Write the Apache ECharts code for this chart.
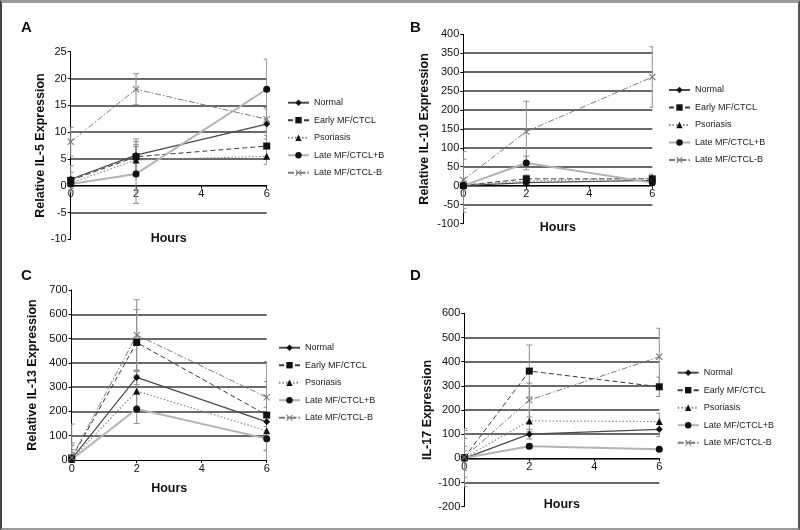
<!DOCTYPE html>
<html>
<head>
<meta charset="utf-8">
<script src="https://cdn.jsdelivr.net/npm/echarts@6/dist/echarts.min.js"></script>
<style>
  body { margin: 0; background: #fff; }
  .frame {
    position: absolute; left: 0; top: 0; width: 800px; height: 530px; box-sizing: border-box;
    border-top: 3px solid #9b9b9b; border-left: 2px solid #444;
    border-right: 2px solid #555; border-bottom: 2px solid #9b9b9b;
  }
  .panel { position: absolute; width: 400px; height: 265px; }
</style>
</head>
<body>
<div class="frame"></div>
<div id="panelA" class="panel" style="left:0;top:0"></div>
<div id="panelB" class="panel" style="left:400px;top:0"></div>
<div id="panelC" class="panel" style="left:0;top:265px"></div>
<div id="panelD" class="panel" style="left:400px;top:265px"></div>
<script>
var hours = [0, 2, 6];
var groups = ['Normal', 'Early MF/CTCL', 'Psoriasis', 'Late MF/CTCL+B', 'Late MF/CTCL-B'];

// rows follow groups, columns follow hours
var il5Mean = [
  [1.2, 5.7, 11.5],
  [1.0, 5.4, 7.4],
  [0.5, 4.8, 5.5],
  [0.3, 2.2, 18.0],
  [8.2, 18.0, 12.4]
];
var il5Err = [
  [2.5, 3.0, 2.8],
  [1.5, 2.8, 2.0],
  [1.0, 2.5, 1.5],
  [1.2, 5.5, 5.6],
  [2.7, 2.9, 2.2]
];

var il10Mean = [
  [0, 8, 14],
  [1, 18, 18],
  [2, 12, 20],
  [0, 60, 8],
  [15, 143, 287]
];
var il10Err = [
  [5, 5, 6],
  [8, 10, 8],
  [10, 8, 10],
  [70, 18, 10],
  [75, 80, 80]
];

var il13Mean = [
  [5, 340, 157],
  [8, 484, 185],
  [3, 284, 120],
  [2, 210, 88],
  [10, 515, 258]
];
var il13Err = [
  [55, 30, 60],
  [140, 135, 220],
  [40, 80, 80],
  [30, 60, 50],
  [60, 145, 65]
];

var il17Mean = [
  [0, 100, 120],
  [3, 361, 296],
  [2, 155, 152],
  [1, 50, 38],
  [5, 241, 420]
];
var il17Err = [
  [50, 20, 30],
  [120, 108, 40],
  [80, 45, 35],
  [30, 10, 8],
  [110, 70, 118]
];

var crossPath = 'path://M0,1L1,0L5,4L9,0L10,1L6,5L10,9L9,10L5,6L1,10L0,9L4,5Z';

var looks = [
  { symbol: 'diamond', size: 7, dot: '#111', line: '#4a4a4a', width: 1.2, type: 'solid' },
  { symbol: 'rect', size: 7, dot: '#111', line: '#3a3a3a', width: 1, type: [5, 3] },
  { symbol: 'triangle', size: 7, dot: '#111', line: '#888', width: 1.2, type: [1.5, 2] },
  { symbol: 'circle', size: 7, dot: '#111', line: '#b3b3b3', width: 2, type: 'solid' },
  { symbol: crossPath, size: 7, dot: '#777', line: '#7a7a7a', width: 1, type: [6, 2, 1.5, 2] }
];

function errorSeries(mean, err) {
  var data = [];
  mean.forEach(function (row, i) {
    row.forEach(function (v, j) {
      data.push([hours[j], v - err[i][j], v + err[i][j]]);
    });
  });
  return {
    type: 'custom',
    name: 'errors',
    silent: true,
    clip: true,
    z: 1,
    encode: { x: 0, y: [1, 2] },
    data: data,
    renderItem: function (params, api) {
      var x = api.value(0);
      var lo = api.coord([x, api.value(1)]);
      var hi = api.coord([x, api.value(2)]);
      var st = { stroke: '#8e8e8e', lineWidth: 1 };
      return {
        type: 'group',
        children: [
          { type: 'line', shape: { x1: lo[0], y1: lo[1], x2: hi[0], y2: hi[1] }, style: st },
          { type: 'line', shape: { x1: lo[0] - 3, y1: lo[1], x2: lo[0] + 3, y2: lo[1] }, style: st },
          { type: 'line', shape: { x1: hi[0] - 3, y1: hi[1], x2: hi[0] + 3, y2: hi[1] }, style: st }
        ]
      };
    }
  };
}

function makePanel(id, cfg) {
  var chart = echarts.init(document.getElementById(id));
  var series = groups.map(function (g, i) {
    var lk = looks[i];
    return {
      name: g,
      type: 'line',
      data: hours.map(function (h, j) { return [h, cfg.mean[i][j]]; }),
      symbol: lk.symbol,
      symbolSize: lk.size,
      itemStyle: { color: lk.dot },
      lineStyle: { color: lk.line, width: lk.width, type: lk.type },
      z: 3
    };
  });
  series.push(errorSeries(cfg.mean, cfg.err));

  // the hours axis sits on the zero line, not on the grid bottom
  var zeroLift = -cfg.grid[3] * (0 - cfg.yMin) / (cfg.yMax - cfg.yMin);

  chart.setOption({
    animation: false,
    textStyle: { fontFamily: 'Liberation Sans, Arial, sans-serif' },
    title: {
      text: cfg.letter,
      left: cfg.letterPos[0],
      top: cfg.letterPos[1],
      padding: 0,
      textStyle: { fontSize: 15, fontWeight: 'bold', color: '#111' }
    },
    legend: {
      data: groups,
      orient: 'vertical',
      left: cfg.legendPos[0],
      top: cfg.legendPos[1],
      padding: 0,
      itemWidth: 21,
      itemHeight: 8,
      itemGap: 7.5,
      textStyle: { fontSize: 9, color: '#222', lineHeight: 10 }
    },
    grid: { left: cfg.grid[0], top: cfg.grid[1], width: cfg.grid[2], height: cfg.grid[3] },
    xAxis: {
      type: 'value',
      min: 0,
      max: 6,
      interval: 2,
      offset: zeroLift,
      name: 'Hours',
      nameLocation: 'middle',
      nameGap: cfg.xNameGap,
      nameTextStyle: { fontSize: 12.5, fontWeight: 'bold', color: '#111' },
      axisLine: { onZero: false, lineStyle: { color: '#000', width: 1 } },
      axisTick: { show: true, length: 3, lineStyle: { color: '#000' } },
      axisLabel: { fontSize: 11, color: '#111', margin: 3 },
      splitLine: { show: false }
    },
    yAxis: {
      type: 'value',
      min: cfg.yMin,
      max: cfg.yMax,
      interval: cfg.yStep,
      name: cfg.yName,
      nameLocation: 'middle',
      nameGap: cfg.yNameGap,
      nameTextStyle: { fontSize: 12.5, fontWeight: 'bold', color: '#111' },
      axisLine: { show: true, onZero: false, lineStyle: { color: '#000', width: 1 } },
      axisTick: { show: true, length: 3, lineStyle: { color: '#000' } },
      axisLabel: { fontSize: 11, color: '#111', margin: 4 },
      splitLine: {
        show: true,
        showMinLine: false,
        showMaxLine: false,
        lineStyle: { color: '#6a6a6a', width: 2 }
      }
    },
    series: series
  });
  return chart;
}

makePanel('panelA', {
  letter: 'A', letterPos: [21, 20],
  mean: il5Mean, err: il5Err,
  grid: [70.7, 51.7, 196, 187.6],
  yMin: -10, yMax: 25, yStep: 5,
  yName: 'Relative IL-5 Expression', yNameGap: 23, xNameGap: 46,
  legendPos: [287, 97.7]
});
makePanel('panelB', {
  letter: 'B', letterPos: [10, 20],
  mean: il10Mean, err: il10Err,
  grid: [63.3, 34.3, 189, 189.2],
  yMin: -100, yMax: 400, yStep: 50,
  yName: 'Relative IL-10 Expression', yNameGap: 32, xNameGap: 35,
  legendPos: [268, 85]
});
makePanel('panelC', {
  letter: 'C', letterPos: [21, 3],
  mean: il13Mean, err: il13Err,
  grid: [71.7, 25, 195, 170],
  yMin: 0, yMax: 700, yStep: 100,
  yName: 'Relative IL-13 Expression', yNameGap: 33, xNameGap: 22,
  legendPos: [278, 77.7]
});
makePanel('panelD', {
  letter: 'D', letterPos: [10, 3],
  mean: il17Mean, err: il17Err,
  grid: [64.3, 48.3, 195, 193.4],
  yMin: -200, yMax: 600, yStep: 100,
  yName: 'IL-17 Expression', yNameGap: 30, xNameGap: 40,
  legendPos: [276.7, 102.7]
});
</script>
</body>
</html>
